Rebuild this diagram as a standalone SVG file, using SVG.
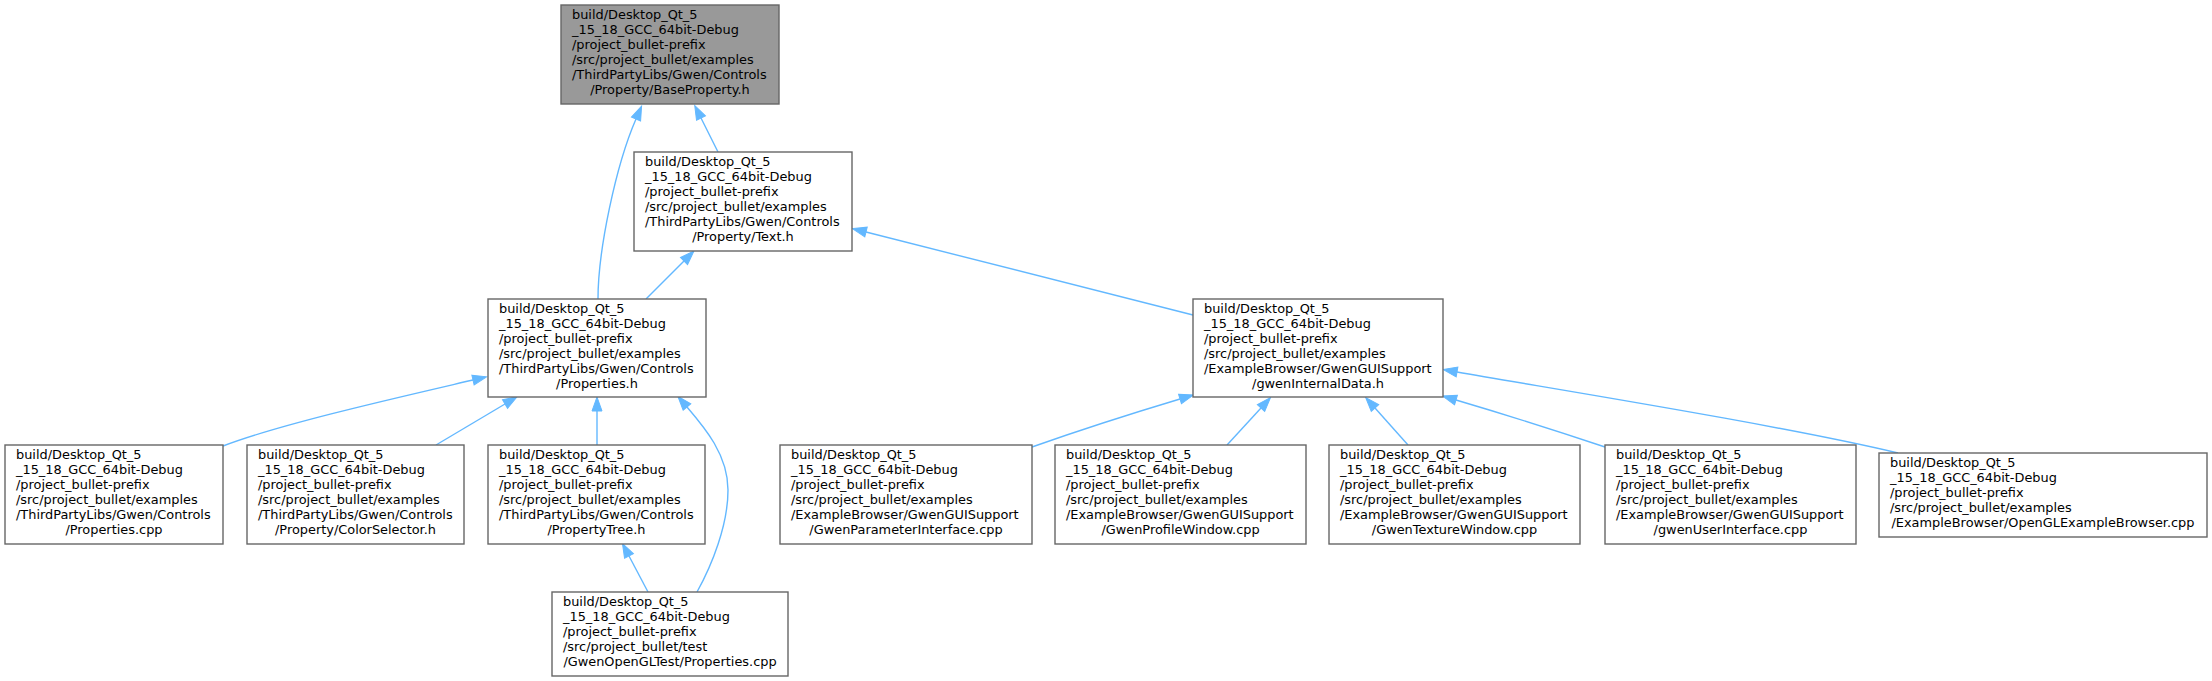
<svg xmlns="http://www.w3.org/2000/svg" width="2212" height="681" viewBox="0 0 2212 681">
<style>
.bg{fill:#ffffff}
.box{fill:#ffffff;stroke:#666666;stroke-width:1.4}
.root{fill:#999999;stroke:#666666;stroke-width:1.4}
text{font-family:"DejaVu Sans",sans-serif;font-size:12.9px;fill:#000000}
.c{text-anchor:middle}
.e{fill:none;stroke:#63b8ff;stroke-width:1.4;marker-end:url(#ah)}
</style>
<defs>
<marker id="ah" markerUnits="userSpaceOnUse" markerWidth="16" markerHeight="12" refX="0" refY="5.5" orient="auto" overflow="visible">
<path d="M0,0.5 L14,5.5 L0,10.5 z" fill="#63b8ff" stroke="#63b8ff" stroke-width="1"/>
</marker>
</defs>
<rect class="bg" x="0" y="0" width="2212" height="681"/>

<g id="edges">
<path class="e" d="M598,299 C598,250 616,165 636,119"/>
<path class="e" d="M718,152 L701,118"/>
<path class="e" d="M646,299 L684,261"/>
<path class="e" d="M1193,315 L866,232"/>
<path class="e" d="M223,446 C280,424 400,397 473,380"/>
<path class="e" d="M436,445 L505,404"/>
<path class="e" d="M597,445 L597,411"/>
<path class="e" d="M697,592 C712,565 728,525 728,490 C728,455 705,428 687,407"/>
<path class="e" d="M648,592 L629,556"/>
<path class="e" d="M1032,447 C1080,430 1140,411 1180,399"/>
<path class="e" d="M1227,445 L1261,408"/>
<path class="e" d="M1408,445 L1375,408"/>
<path class="e" d="M1605,447 C1560,432 1500,413 1456,400"/>
<path class="e" d="M1898,453 C1780,425 1560,390 1457,372"/>
</g>

<g id="node_baseproperty">
<rect class="root" x="561" y="5" width="218" height="99"/>
<text x="572" y="19">build/Desktop_Qt_5</text>
<text x="572" y="34">_15_18_GCC_64bit-Debug</text>
<text x="572" y="49">/project_bullet-prefix</text>
<text x="572" y="64">/src/project_bullet/examples</text>
<text x="572" y="79">/ThirdPartyLibs/Gwen/Controls</text>
<text class="c" x="670" y="94">/Property/BaseProperty.h</text>
</g>

<g id="node_text_h">
<rect class="box" x="634" y="152" width="218" height="99"/>
<text x="645" y="166">build/Desktop_Qt_5</text>
<text x="645" y="181">_15_18_GCC_64bit-Debug</text>
<text x="645" y="196">/project_bullet-prefix</text>
<text x="645" y="211">/src/project_bullet/examples</text>
<text x="645" y="226">/ThirdPartyLibs/Gwen/Controls</text>
<text class="c" x="743" y="241">/Property/Text.h</text>
</g>

<g id="node_properties_h">
<rect class="box" x="488" y="299" width="218" height="98"/>
<text x="499" y="312.5">build/Desktop_Qt_5</text>
<text x="499" y="327.5">_15_18_GCC_64bit-Debug</text>
<text x="499" y="342.5">/project_bullet-prefix</text>
<text x="499" y="357.5">/src/project_bullet/examples</text>
<text x="499" y="372.5">/ThirdPartyLibs/Gwen/Controls</text>
<text class="c" x="597" y="387.5">/Properties.h</text>
</g>

<g id="node_gwenInternalData">
<rect class="box" x="1193" y="299" width="250" height="98"/>
<text x="1204" y="312.5">build/Desktop_Qt_5</text>
<text x="1204" y="327.5">_15_18_GCC_64bit-Debug</text>
<text x="1204" y="342.5">/project_bullet-prefix</text>
<text x="1204" y="357.5">/src/project_bullet/examples</text>
<text x="1204" y="372.5">/ExampleBrowser/GwenGUISupport</text>
<text class="c" x="1318" y="387.5">/gwenInternalData.h</text>
</g>

<g id="node_properties_cpp">
<rect class="box" x="5" y="445" width="218" height="99"/>
<text x="16" y="459">build/Desktop_Qt_5</text>
<text x="16" y="474">_15_18_GCC_64bit-Debug</text>
<text x="16" y="489">/project_bullet-prefix</text>
<text x="16" y="504">/src/project_bullet/examples</text>
<text x="16" y="519">/ThirdPartyLibs/Gwen/Controls</text>
<text class="c" x="114" y="534">/Properties.cpp</text>
</g>

<g id="node_colorselector">
<rect class="box" x="247" y="445" width="217" height="99"/>
<text x="258" y="459">build/Desktop_Qt_5</text>
<text x="258" y="474">_15_18_GCC_64bit-Debug</text>
<text x="258" y="489">/project_bullet-prefix</text>
<text x="258" y="504">/src/project_bullet/examples</text>
<text x="258" y="519">/ThirdPartyLibs/Gwen/Controls</text>
<text class="c" x="355.5" y="534">/Property/ColorSelector.h</text>
</g>

<g id="node_propertytree">
<rect class="box" x="488" y="445" width="217" height="99"/>
<text x="499" y="459">build/Desktop_Qt_5</text>
<text x="499" y="474">_15_18_GCC_64bit-Debug</text>
<text x="499" y="489">/project_bullet-prefix</text>
<text x="499" y="504">/src/project_bullet/examples</text>
<text x="499" y="519">/ThirdPartyLibs/Gwen/Controls</text>
<text class="c" x="596.5" y="534">/PropertyTree.h</text>
</g>

<g id="node_gwenparameterinterface">
<rect class="box" x="780" y="445" width="252" height="99"/>
<text x="791" y="459">build/Desktop_Qt_5</text>
<text x="791" y="474">_15_18_GCC_64bit-Debug</text>
<text x="791" y="489">/project_bullet-prefix</text>
<text x="791" y="504">/src/project_bullet/examples</text>
<text x="791" y="519">/ExampleBrowser/GwenGUISupport</text>
<text class="c" x="906" y="534">/GwenParameterInterface.cpp</text>
</g>

<g id="node_gwenprofilewindow">
<rect class="box" x="1055" y="445" width="251" height="99"/>
<text x="1066" y="459">build/Desktop_Qt_5</text>
<text x="1066" y="474">_15_18_GCC_64bit-Debug</text>
<text x="1066" y="489">/project_bullet-prefix</text>
<text x="1066" y="504">/src/project_bullet/examples</text>
<text x="1066" y="519">/ExampleBrowser/GwenGUISupport</text>
<text class="c" x="1180.5" y="534">/GwenProfileWindow.cpp</text>
</g>

<g id="node_gwentexturewindow">
<rect class="box" x="1329" y="445" width="251" height="99"/>
<text x="1340" y="459">build/Desktop_Qt_5</text>
<text x="1340" y="474">_15_18_GCC_64bit-Debug</text>
<text x="1340" y="489">/project_bullet-prefix</text>
<text x="1340" y="504">/src/project_bullet/examples</text>
<text x="1340" y="519">/ExampleBrowser/GwenGUISupport</text>
<text class="c" x="1454.5" y="534">/GwenTextureWindow.cpp</text>
</g>

<g id="node_gwenuserinterface">
<rect class="box" x="1605" y="445" width="251" height="99"/>
<text x="1616" y="459">build/Desktop_Qt_5</text>
<text x="1616" y="474">_15_18_GCC_64bit-Debug</text>
<text x="1616" y="489">/project_bullet-prefix</text>
<text x="1616" y="504">/src/project_bullet/examples</text>
<text x="1616" y="519">/ExampleBrowser/GwenGUISupport</text>
<text class="c" x="1730.5" y="534">/gwenUserInterface.cpp</text>
</g>

<g id="node_openglexamplebrowser">
<rect class="box" x="1879" y="453" width="328" height="84"/>
<text x="1890" y="467">build/Desktop_Qt_5</text>
<text x="1890" y="482">_15_18_GCC_64bit-Debug</text>
<text x="1890" y="497">/project_bullet-prefix</text>
<text x="1890" y="512">/src/project_bullet/examples</text>
<text class="c" x="2043" y="527">/ExampleBrowser/OpenGLExampleBrowser.cpp</text>
</g>

<g id="node_gwenopengltest_properties">
<rect class="box" x="552" y="592" width="236" height="84"/>
<text x="563" y="606">build/Desktop_Qt_5</text>
<text x="563" y="621">_15_18_GCC_64bit-Debug</text>
<text x="563" y="636">/project_bullet-prefix</text>
<text x="563" y="651">/src/project_bullet/test</text>
<text class="c" x="670" y="666">/GwenOpenGLTest/Properties.cpp</text>
</g>
</svg>
